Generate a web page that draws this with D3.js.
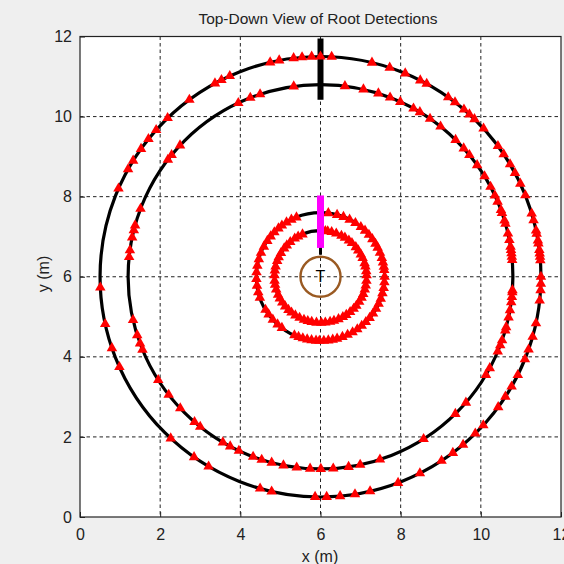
<!DOCTYPE html>
<html>
<head>
<meta charset="utf-8">
<script src="https://cdn.jsdelivr.net/npm/d3@7"></script>
<style>
  html, body { margin: 0; padding: 0; background: #efefef; }
  svg { display: block; }
  text { font-family: Arial, "Liberation Sans", Helvetica, sans-serif; fill: #222; }
</style>
</head>
<body>
<svg id="chart" width="564" height="564"></svg>
<script>
// ---- data ----
const titleText = "Top-Down View of Root Detections";
const xLabel = "x (m)";
const yLabel = "y (m)";
const xTicks = [0, 2, 4, 6, 8, 10, 12];
const yTicks = [0, 2, 4, 6, 8, 10, 12];
const centerX = 6;
const centerY = 6;
const radiusOuter = 5.5;
const radiusInner = 4.8;
const radiusSmallOuter = 1.6;
const radiusSmallInner = 1.15;
const radiusTree = 0.5;
// detection angles (degrees, counter-clockwise from +x) on each ring
const anglesOuter = [0, 4.3, 5.2, 6.1, 7, 8.7, 9.5, 11.3, 12.1, 14.9, 16.7, 21.7, 25, 28.1, 30.7, 33.8, 36.4,
  42.3, 45.7, 47.5, 49.4, 52.4, 54.6, 61.2, 63.1, 67.4, 71.7, 76.5, 87.1, 90, 92.3, 94.8, 97, 100.8, 103.2,
  114.3, 116.7, 118.6, 126.5, 133.9, 138.2, 141.3, 144.5, 148.2, 150.8, 156.4, 182.8, 192.4, 198.9, 204.2,
  227.2, 235, 239.5, 254.1, 257.2, 268.6, 271.6, 275.1, 279, 283, 290.6, 296.8, 303.3, 306.9, 310.3, 314.6,
  317.6, 323.7, 327, 330.1, 333.5, 338, 340.7, 344.2, 347.8, 353.8, 356.5, 358.2];
const anglesInner = [5, 6, 7, 8, 9, 11, 13, 16, 17, 19.4, 20.3, 23, 25, 27.9, 31.5, 35.5, 39.3, 41.9, 45.4,
  51.4, 55.3, 58.9, 61.1, 65.5, 68.8, 72.5, 77.1, 82.7, 98, 108.3, 111.4, 115.3, 136.9, 140.7, 142.5, 159.3,
  164.5, 166, 168.2, 172.1, 174.1, 193, 197.7, 200.3, 202.3, 212.5, 217.9, 223.2, 229.1, 231.3, 239.5, 242,
  244.9, 249.5, 252.2, 255.3, 258.9, 262.9, 266.9, 270.1, 273.8, 278.4, 281.9, 288, 302.4, 314.5, 319.1,
  329.3, 331.6, 337.1, 339.1, 340.7, 343.8, 344.8, 347.8, 350, 352.4, 354, 355.4, 356];
const anglesSmallOuter = [0, 6, 9, 13, 17, 22, 27, 31, 36, 41, 46, 51, 57, 63, 69, 75, 83, 112, 117, 122,
  127, 131, 136, 141, 146, 152, 158, 164, 170, 176, 182, 188, 194, 199, 211, 216, 222, 228, 233, 246,
  250, 254, 258, 262, 266, 269, 273, 277, 281, 285, 290, 295, 300, 305, 310, 315, 320, 325, 330, 335,
  340, 345, 350, 355];
const anglesSmallInner = [2, 7, 13, 17, 24, 29, 35, 40, 47, 52, 58, 63, 70, 76, 81, 84, 113, 119, 124, 131,
  137, 142, 149, 155, 160, 167, 172, 178, 185, 190, 196, 203, 208, 214, 220, 226, 231, 237, 243, 249,
  254, 259, 265, 271, 276, 282, 287, 293, 299, 304, 310, 316, 321, 327, 333, 338, 344, 349, 355];
// vertical marker bars [x, yStart, yEnd]
const blackBar = [6, 10.42, 11.95];
const magentaBar = [6, 6.72, 8.03];
const blackStub = [6, 6.55, 6.8];

// ---- layout ----
const svg = d3.select("#chart");
const plotLeft = 80, plotRight = 561, plotTop = 36.5, plotBottom = 517;
const x = d3.scaleLinear().domain([0, 12]).range([plotLeft, plotRight]);
const y = d3.scaleLinear().domain([0, 12]).range([plotBottom, plotTop]);

// plot background
svg.append("rect").attr("x", plotLeft).attr("y", plotTop)
  .attr("width", plotRight - plotLeft).attr("height", plotBottom - plotTop).attr("fill", "#fff");

// grid
const grid = svg.append("g").attr("stroke", "#222").attr("stroke-width", 1)
  .attr("stroke-dasharray", "3.5,3");
xTicks.slice(1, -1).forEach(t => grid.append("line")
  .attr("x1", x(t)).attr("x2", x(t)).attr("y1", plotTop).attr("y2", plotBottom));
yTicks.slice(1, -1).forEach(t => grid.append("line")
  .attr("y1", y(t)).attr("y2", y(t)).attr("x1", plotLeft).attr("x2", plotRight));

// axes (ticks inside, MATLAB style)
const xAxis = d3.axisBottom(x).tickValues(xTicks).tickSize(-5).tickPadding(13);
const yAxis = d3.axisLeft(y).tickValues(yTicks).tickSize(-5).tickPadding(13);
const gx = svg.append("g").attr("transform", `translate(0,${plotBottom})`).call(xAxis);
const gy = svg.append("g").attr("transform", `translate(${plotLeft},0)`).call(yAxis);
[gx, gy].forEach(g => {
  g.select(".domain").remove();
  g.selectAll("line").attr("stroke", "#222");
  g.selectAll("text").attr("font-size", 16).attr("fill", "#222")
    .style("font-family", "Arial, 'Liberation Sans', sans-serif");
});
gx.selectAll("text").attr("dy", "0.71em").attr("y", 12);
gy.selectAll("text").attr("x", -8);

// rings
const rings = [radiusOuter, radiusInner, radiusSmallOuter, radiusSmallInner];
svg.append("g").selectAll("ellipse").data(rings).join("ellipse")
  .attr("cx", x(centerX)).attr("cy", y(centerY))
  .attr("rx", d => x(centerX + d) - x(centerX))
  .attr("ry", d => y(centerY) - y(centerY + d))
  .attr("fill", "none").attr("stroke", "#000").attr("stroke-width", 3.2);

// tree circle
svg.append("ellipse")
  .attr("cx", x(centerX)).attr("cy", y(centerY))
  .attr("rx", x(centerX + radiusTree) - x(centerX))
  .attr("ry", y(centerY) - y(centerY + radiusTree))
  .attr("fill", "none").attr("stroke", "#9a5a22").attr("stroke-width", 2.4);

// black bar top and stub
[blackBar, blackStub].forEach((b, i) => svg.append("line")
  .attr("x1", x(b[0])).attr("x2", x(b[0])).attr("y1", y(b[1])).attr("y2", y(b[2]))
  .attr("stroke", "#000").attr("stroke-width", i === 0 ? 6 : 3));

// detections
const pts = [];
[[anglesOuter, radiusOuter], [anglesInner, radiusInner],
 [anglesSmallOuter, radiusSmallOuter], [anglesSmallInner, radiusSmallInner]].forEach(([angs, r]) => {
  angs.forEach(a => {
    const rad = a * Math.PI / 180;
    pts.push([centerX + r * Math.cos(rad), centerY + r * Math.sin(rad)]);
  });
});
const tri = d3.symbol().type(d3.symbolTriangle).size(48);
svg.append("g").selectAll("path").data(pts).join("path")
  .attr("d", tri)
  .attr("transform", d => `translate(${x(d[0])},${y(d[1])})`)
  .attr("fill", "#ff0000");

// magenta bar
svg.append("line")
  .attr("x1", x(magentaBar[0])).attr("x2", x(magentaBar[0]))
  .attr("y1", y(magentaBar[1])).attr("y2", y(magentaBar[2]))
  .attr("stroke", "#ff00ff").attr("stroke-width", 7);

// tree marker
svg.append("text").attr("x", x(centerX)).attr("y", y(centerY))
  .attr("text-anchor", "middle").attr("dominant-baseline", "central")
  .attr("font-size", 16).style("fill", "#000").text("T");

// frame
svg.append("rect").attr("x", plotLeft).attr("y", plotTop)
  .attr("width", plotRight - plotLeft).attr("height", plotBottom - plotTop)
  .attr("fill", "none").attr("stroke", "#222").attr("stroke-width", 1.2);

// labels
svg.append("text").attr("x", 318).attr("y", 24).attr("text-anchor", "middle")
  .attr("font-size", 15.5).text(titleText);
svg.append("text").attr("x", 320).attr("y", 562).attr("text-anchor", "middle")
  .attr("font-size", 16).text(xLabel);
svg.append("text").attr("transform", "translate(43,274) rotate(-90)")
  .attr("text-anchor", "middle").attr("dominant-baseline", "central")
  .attr("font-size", 16).text(yLabel);
</script>
</body>
</html>
